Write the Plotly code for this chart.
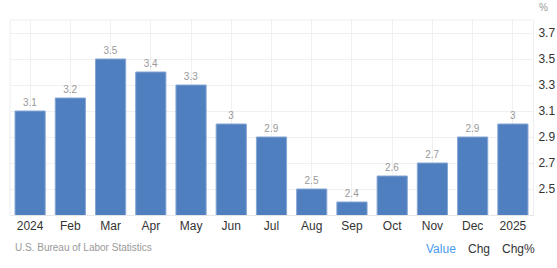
import plotly.graph_objects as go

categories = ["2024", "Feb", "Mar", "Apr", "May", "Jun", "Jul", "Aug", "Sep", "Oct", "Nov", "Dec", "2025"]
values = [3.1, 3.2, 3.5, 3.4, 3.3, 3.0, 2.9, 2.5, 2.4, 2.6, 2.7, 2.9, 3.0]
ytick_vals = [2.5, 2.7, 2.9, 3.1, 3.3, 3.5, 3.7]
ytick_text = ["2.5", "2.7", "2.9", "3.1", "3.3", "3.5", "3.7"]

W, H = 557, 268
FONT = "Liberation Sans, Arial, Helvetica, sans-serif"

fig = go.Figure()
fig.add_trace(go.Bar(
    x=categories, y=values,
    marker=dict(color="#4f7fbf", line=dict(color="#86a6d4", width=1)),
    text=[f"{v:g}" for v in values],
    textposition="outside",
    textfont=dict(family=FONT, size=10, color="#999999"),
    cliponaxis=False,
))

fig.update_layout(
    width=W, height=H,
    margin=dict(l=10, r=24, t=20, b=53, autoexpand=False),
    paper_bgcolor="white", plot_bgcolor="white",
    bargap=0.25,
    showlegend=False,
    font=dict(family=FONT),
    xaxis=dict(
        type="category", automargin=False,
        showgrid=True, gridcolor="#f0f0f0", gridwidth=1,
        showline=True, linecolor="#e6e6e6", linewidth=1,
        ticks="", tickfont=dict(size=12, color="#333333"),
        mirror=False, fixedrange=True,
    ),
    yaxis=dict(
        range=[2.3, 3.8], side="right", automargin=False,
        tickvals=ytick_vals, ticktext=ytick_text,
        showgrid=True, gridcolor="#f0f0f0", gridwidth=1,
        zeroline=False, showline=True, linecolor="#eeeeee",
        ticks="", tickfont=dict(size=12, color="#333333"),
        ticklabelstandoff=2,
    ),
    shapes=[
        dict(type="line", xref="paper", yref="paper", x0=0, x1=1, y0=1, y1=1,
             line=dict(color="#eeeeee", width=1)),
        dict(type="line", xref="paper", yref="paper", x0=0, x1=0, y0=0, y1=1,
             line=dict(color="#eeeeee", width=1)),
    ],
    annotations=[
        dict(text="%", xref="paper", yref="paper", x=(543 - 10) / 523, y=1 + 13 / 195,
             showarrow=False, xanchor="center", yanchor="middle",
             font=dict(size=10, color="#999999")),
        dict(text="U.S. Bureau of Labor Statistics", xref="paper", yref="paper",
             x=3 / 523, y=-(247 - 215) / 195, showarrow=False,
             xanchor="left", yanchor="middle", font=dict(size=10, color="#999999")),
        dict(text="Value", xref="paper", yref="paper", x=(441 - 10) / 523, y=-(249 - 215) / 195,
             showarrow=False, xanchor="center", yanchor="middle",
             font=dict(size=12, color="#4a9af0")),
        dict(text="Chg", xref="paper", yref="paper", x=(479 - 10) / 523, y=-(249 - 215) / 195,
             showarrow=False, xanchor="center", yanchor="middle",
             font=dict(size=12, color="#333333")),
        dict(text="Chg%", xref="paper", yref="paper", x=(518 - 10) / 523, y=-(249 - 215) / 195,
             showarrow=False, xanchor="center", yanchor="middle",
             font=dict(size=12, color="#333333")),
    ],
)

fig.write_html("out.html")
